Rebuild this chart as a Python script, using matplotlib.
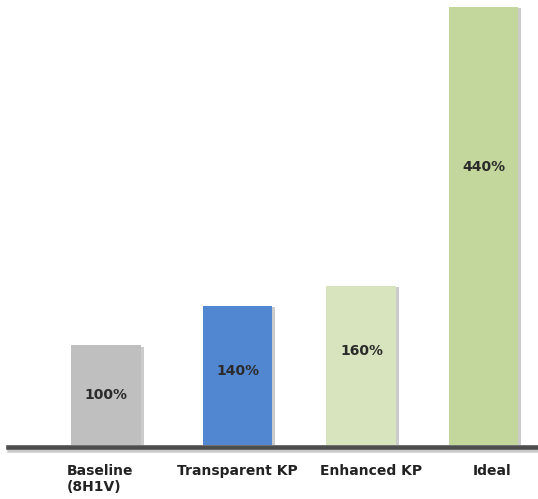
import matplotlib.pyplot as plt
import matplotlib.patheffects as pe

# datos de la grafica
categorias = ['Baseline\n(8H1V)', 'Transparent KP', 'Enhanced KP', 'Ideal']
valores = [100, 140, 160, 440]
etiquetas = ['100%', '140%', '160%', '440%']
colores = ['#bfbfbf', '#5187d1', '#d7e4bd', '#c3d69b']

# posiciones de las barras (no son del todo equidistantes en el original)
pos_x = [0, 1.045, 2.03, 3.0]
# posicion vertical de la etiqueta dentro de cada barra (fraccion de la altura)
frac_etiqueta = [0.5, 0.53, 0.59, 0.635]
# desplazamiento horizontal de los nombres de categoria
desp_x = [-0.05, 0.0, 0.08, 0.07]

plt.rcParams['font.family'] = ['DejaVu Sans']

fig = plt.figure(figsize=(5.38, 4.99), dpi=100)
ax = fig.add_axes([8 / 538, 1 - 445 / 499, 530 / 538, 445 / 499])

sombra = [pe.SimplePatchShadow(offset=(2, -1), shadow_rgbFace='#999999', alpha=0.5), pe.Normal()]

barras = ax.bar(pos_x, valores, width=0.556, color=colores, zorder=2)
for b in barras:
    b.set_path_effects(sombra)

for i, v in enumerate(valores):
    ax.text(pos_x[i], v * frac_etiqueta[i], etiquetas[i], ha='center', va='center',
            fontsize=10, fontweight='bold', color='#2b2b2b', zorder=3)
    ax.text(pos_x[i] + desp_x[i], -19, categorias[i], ha='center', va='top',
            multialignment='left', fontsize=10, fontweight='bold',
            color='#222222', linespacing=1.15)

# linea base
ax.axhline(-2.5, color='#4d4d4d', lw=3.3, zorder=4, clip_on=False,
           path_effects=[pe.SimpleLineShadow(offset=(1, -2), shadow_color='#999999', alpha=0.5), pe.Normal()])

ax.set_xlim(-0.779, 3.433)
ax.set_ylim(0, 447)
ax.axis('off')

fig.savefig('out.png', dpi=100)
